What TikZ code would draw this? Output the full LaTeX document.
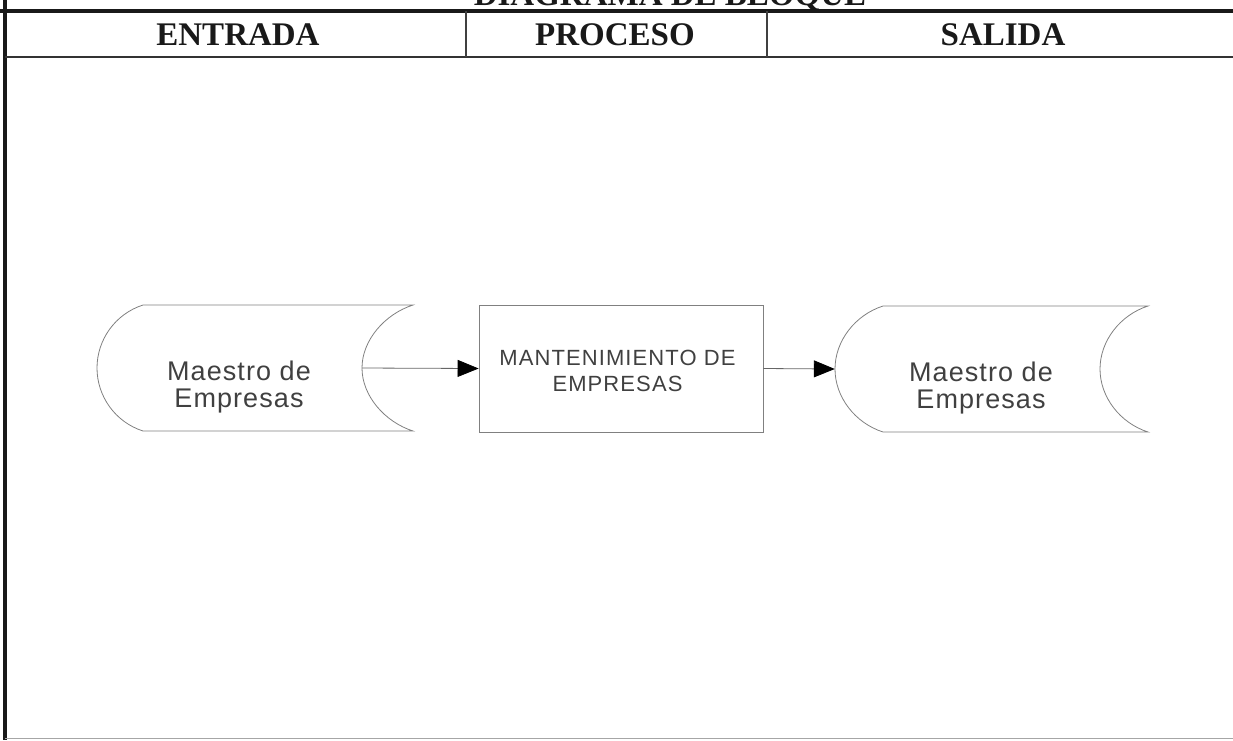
\documentclass[tikz,border=0pt]{standalone}
\usepackage{fontspec}
\setmainfont{Liberation Serif}
\newfontfamily\shapefont[LetterSpace=4]{Liberation Sans}
\newfontfamily\procfont[LetterSpace=5]{Liberation Sans}
\usetikzlibrary{arrows.meta,calc}
\begin{document}
\begin{tikzpicture}[x=1pt,y=-1pt,
  frameline/.style={line width=4.5pt, black!90},
  hdrline/.style={line width=2.2pt, black!80},
  divline/.style={line width=1.4pt, black!75},
  shapeline/.style={draw=black!50, line width=0.8pt},
  arrowline/.style={draw=black!60, line width=0.8pt, -{Triangle[length=21pt,width=17pt,fill=black,color=black]}},
  hdr/.style={font=\fontsize{33}{38}\selectfont\bfseries, anchor=base, inner sep=0pt, text=black!90},
  lbl/.style={font=\shapefont\fontsize{27}{27}\selectfont, align=center, inner sep=0pt, text=black!75},
  plbl/.style={font=\procfont\fontsize{22}{26}\selectfont, align=center, inner sep=0pt, text=black!75},
  areabox/.style={minimum width=#1, minimum height=126pt, inner sep=0pt}
]
\useasboundingbox (0,0) rectangle (1233,740);
\begin{scope}
\clip (0,0) rectangle (1233,740);
% title, cut off at top as in the reference
\node[hdr] (title) at (670,5) {DIAGRAMA DE BLOQUE};
% frame
\draw[frameline] (0,11) -- (1233,11);
\draw[frameline] (5,0) -- (5,740);
\draw[hdrline] (5,57) -- (1233,57);
\draw[divline] (466,11) -- (466,57);
\draw[divline] (767,11) -- (767,57);
\draw[line width=1pt, black!35] (5,738) -- (1233,738);
\end{scope}
% headers
\node[hdr] (hin) at (238,45.5) {ENTRADA};
\node[hdr] (hproc) at (615,45.5) {PROCESO};
\node[hdr] (hout) at (1003,45.5) {SALIDA};
% input storage
\node[areabox=316pt] (in1) at (255,368) {};
\draw[shapeline] (143,305) -- (413,305)
  .. controls (385,314) and (362,340) .. (362,368)
  .. controls (362,396) and (385,422) .. (413,431)
  -- (143,431)
  .. controls (115,422) and (97,396) .. (97,368)
  .. controls (97,340) and (115,314) .. (143,305) -- cycle;
\node[lbl] (in1t) at (239,387) {Maestro de\\Empresas};
\coordinate (in1out) at (362,368);
% process
\node[draw=black!50, line width=0.8pt, minimum width=284pt, minimum height=127pt, inner sep=0pt] (proc) at (621,368.5) {};
\node[plbl] (proct) at (617.5,371) {MANTENIMIENTO DE\\EMPRESAS};
% output storage
\node[areabox=313pt] (out1) at (991.5,369) {};
\draw[shapeline] (883,306) -- (1148,306)
  .. controls (1120,315) and (1100,341) .. (1100,369)
  .. controls (1100,397) and (1120,423) .. (1148,432)
  -- (883,432)
  .. controls (855,423) and (835,397) .. (835,369)
  .. controls (835,341) and (855,315) .. (883,306) -- cycle;
\node[lbl] (out1t) at (981,388) {Maestro de\\Empresas};
% connectors
\draw[arrowline] (in1out) -- (proc.west);
\draw[arrowline] (proc.east) -- (out1.west);
\end{tikzpicture}
\end{document}
